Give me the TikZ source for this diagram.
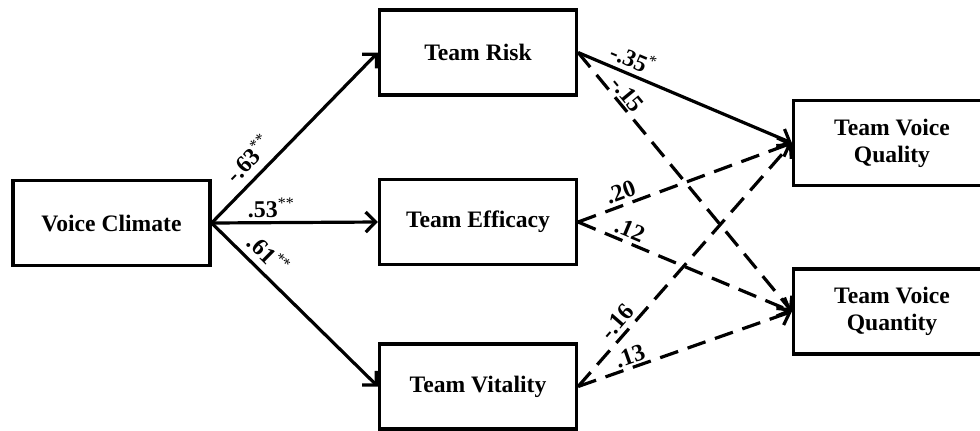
\documentclass[tikz,border=0pt]{standalone}
\usepackage{fontspec}
\setmainfont{Liberation Serif}
\usetikzlibrary{arrows.meta}
\begin{document}
\begin{tikzpicture}[x=0.5pt,y=-0.5pt,
  box/.style={draw,line width=1.6pt,minimum width=98.5pt,minimum height=42.5pt,align=center,
    font=\fontsize{11.8}{13.5}\selectfont\bfseries,inner sep=2pt},
  conn/.style={line width=1.6pt,-{Straight Barb[length=5pt,width=10pt]}},
  dsh/.style={conn,dash pattern=on 9.5pt off 5pt},
  lbl/.style={font=\fontsize{12}{14}\selectfont\bfseries,sloped,inner sep=1pt,text height=8pt,text depth=0pt}]
\useasboundingbox (0,0) rectangle (980,430);
\clip (0,0) rectangle (980,430);
\node[box] (vc) at (111.5,223) {Voice Climate};
\node[box] (risk) at (478,52.5) {Team Risk};
\node[box] (eff) at (478,222) {Team Efficacy};
\node[box] (vit) at (478,386.5) {Team Vitality};
\node[box] (qual) at (892,143) {Team Voice\\Quality};
\node[box] (quan) at (892,311.5) {Team Voice\\Quantity};
\draw[conn] (vc.east) -- node[lbl,pos=0.3,above=3pt]{-.63\textsuperscript{\mdseries **}} (risk.west);
\draw[conn] (vc.east) -- node[lbl,pos=0.36,above=1pt]{.53\textsuperscript{\mdseries **}} (eff.west);
\draw[conn] (vc.east) -- node[lbl,pos=0.27,above=2.5pt]{.61\textsuperscript{\mdseries **}} (vit.west);
\draw[conn] (risk.east) -- node[lbl,pos=0.23,above=1.5pt]{-.35\textsuperscript{\mdseries *}} (qual.west);
\draw[dsh] (risk.east) -- node[lbl,pos=0.19,above=0pt]{-.15} (quan.west);
\draw[dsh] (eff.east) -- node[lbl,pos=0.22,above=1pt]{.20} (qual.west);
\draw[dsh] (eff.east) -- node[lbl,pos=0.22,above=0.5pt]{.12} (quan.west);
\draw[dsh] (vit.east) -- node[lbl,pos=0.23,above=1pt]{-.16} (qual.west);
\draw[dsh] (vit.east) -- node[lbl,pos=0.26,above=0pt]{.13} (quan.west);
\end{tikzpicture}
\end{document}
